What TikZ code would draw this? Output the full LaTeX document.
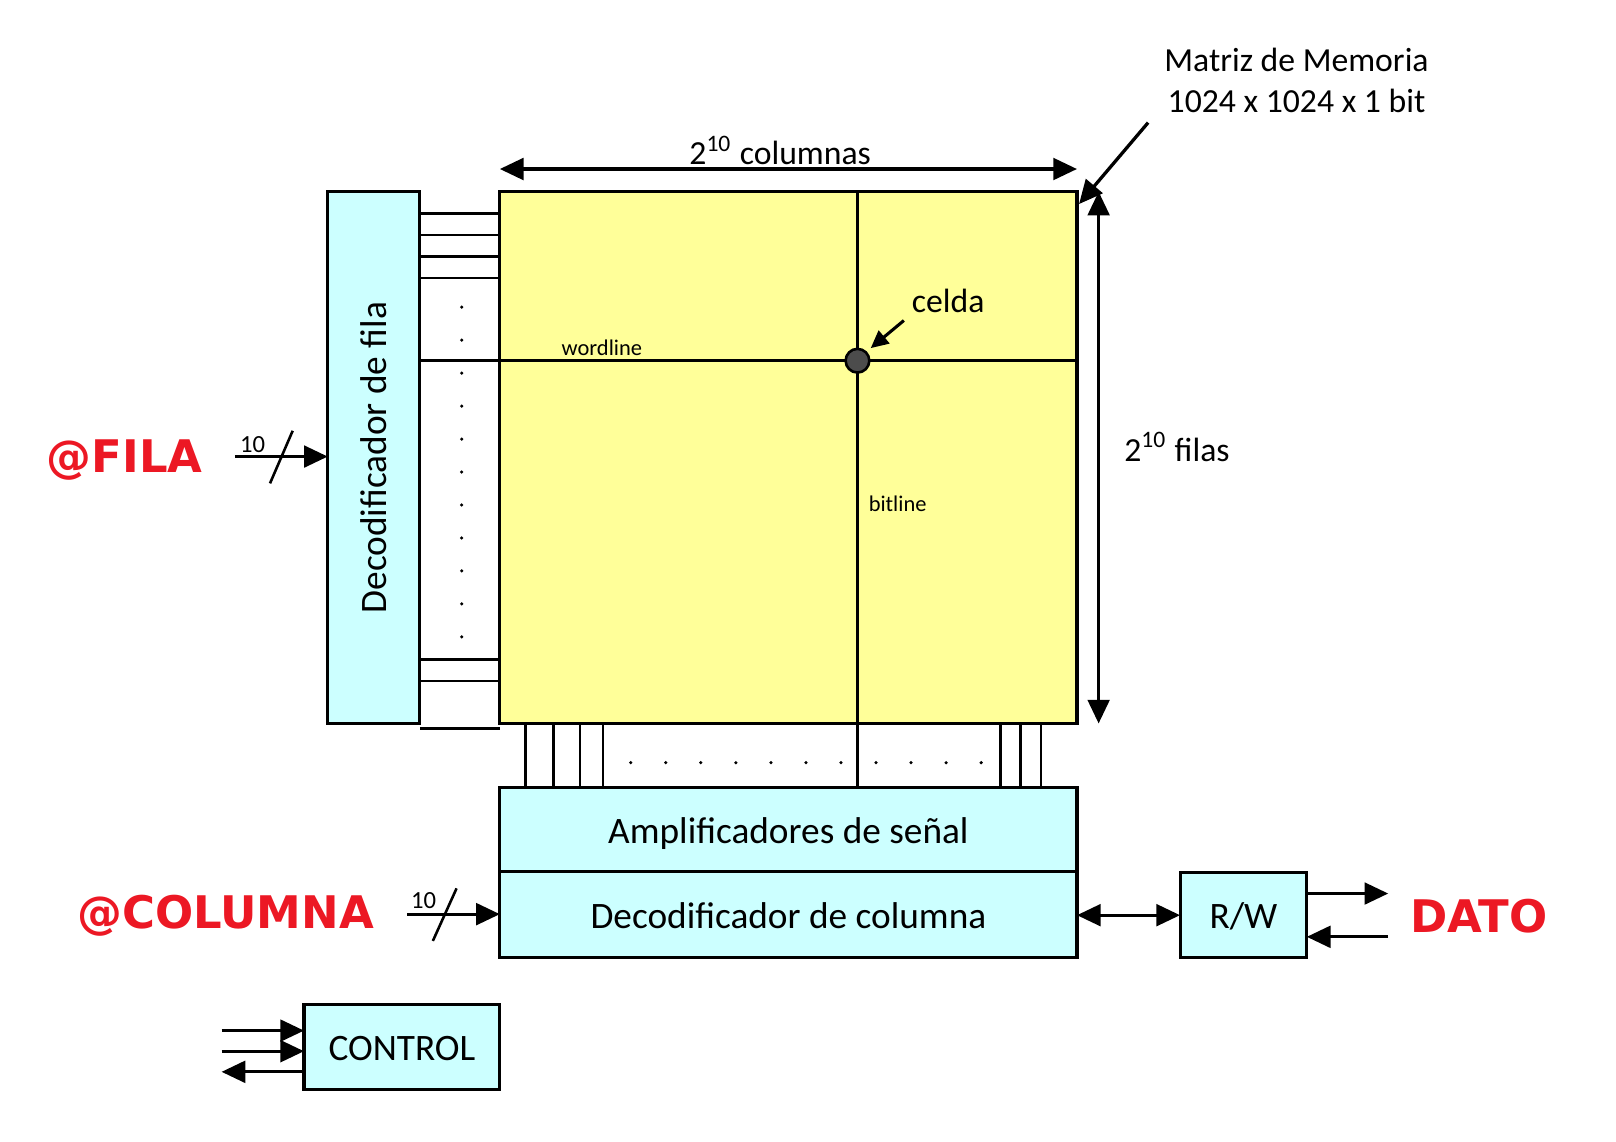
\documentclass[tikz,border=0pt]{standalone}
\usepackage{fontspec}
\setmainfont{Carlito}
\newfontfamily\rotulo{DejaVu Sans}
\usetikzlibrary{arrows.meta}
\definecolor{amarillo}{RGB}{255,255,153}
\definecolor{cian}{RGB}{204,255,255}
\definecolor{rojo}{RGB}{236,24,36}

\begin{document}
\begin{tikzpicture}[x=0.1mm,y=-0.1mm,
  caja/.style={draw,line width=0.3mm,fill=cian,inner sep=0pt,outer sep=0pt,anchor=north west,font=\fontsize{10.3}{12}\selectfont},
  baja/.style={text height=3.3mm,text depth=0.7mm},
  hilo/.style={line width=0.24mm},
  flecha/.style={line width=0.32mm,-{Triangle[length=2.3mm,width=2.1mm]}},
  doble/.style={line width=0.32mm,{Triangle[length=2.3mm,width=2.1mm]}-{Triangle[length=2.3mm,width=2.1mm]}},
  nota/.style={font=\fontsize{9.3}{11.4}\selectfont},
  chica/.style={font=\fontsize{6.2}{7}\selectfont},
  bus/.style={font=\fontsize{6.8}{8}\selectfont},
  senal/.style={font=\rotulo\bfseries\fontsize{12.4}{14}\selectfont,text=rojo}]
\useasboundingbox (0,0) rectangle (1568,1108);
\node[caja,fill=amarillo,minimum width=56mm,minimum height=51.6mm] (mat) at (485,186) {};
\node[caja,minimum width=8.9mm,minimum height=51.6mm] (decf) at (318,186) {\rotatebox{90}{Decodificador de fila}};
\node[caja,baja,minimum width=56mm,minimum height=8.2mm] (amp) at (485,764) {Amplificadores de señal};
\node[caja,baja,minimum width=56mm,minimum height=8.3mm] (decc) at (485,846) {Decodificador de columna};
\node[caja,baja,minimum width=12.3mm,minimum height=8.2mm] (rw) at (1145,847) {R/W};
\node[caja,baja,minimum width=19mm,minimum height=8.2mm] (ctrl) at (295,975) {CONTROL};
\foreach \y in {207,228,249,270,640,661} \draw[hilo] (decf.east |- 0,\y) -- (mat.west |- 0,\y);
\draw[hilo] (408,707) -- (485,707);
\foreach \y in {298,330,...,618} \fill (448,\y) circle (0.17mm);
\foreach \x in {510,537,563,585,971,990,1010} \draw[hilo] (mat.south -| \x,0) -- (amp.north -| \x,0);
\foreach \x in {612,646,...,952} \fill (\x,740) circle (0.17mm);
\draw[hilo] (decf.east |- 0,350) -- (mat.east |- 0,350);
\draw[hilo] (mat.north -| 832,0) -- (amp.north -| 832,0);
\node[draw,circle,fill=black!70,line width=0.25mm,minimum size=2.3mm,inner sep=0pt] (cel) at (832,350) {};
\node[nota] (celda) at (920,292) {celda};
\draw[line width=0.3mm,-{Triangle[length=1.7mm,width=1.6mm]},shorten >=0.5mm] (877,311) -- (cel.45);
\node[chica] (wl) at (584,337) {wordline};
\node[chica] (bl) at (871,489) {bitline};
\coordinate (c1) at (485,164); \coordinate (c2) at (1045,164);
\draw[doble] (c1) -- (c2);
\node[nota] (ncol) at (757,146) {2\textsuperscript{10} columnas};
\coordinate (f1) at (1066,186); \coordinate (f2) at (1066,702);
\draw[doble] (f1) -- (f2);
\node[nota] (nfil) at (1142,434) {2\textsuperscript{10} filas};
\node[nota,align=center] (titulo) at (1258,78) {Matriz de Memoria\\1024 x 1024 x 1 bit};
\coordinate (t1) at (1114,119); \coordinate (esq) at (1047,198);
\draw[flecha] (t1) -- (esq);
\node[senal] (fila) at (121,446) {@FILA};
\coordinate (fin) at (228,443);
\draw[flecha] (fin) -- (decf.west |- fin);
\draw[line width=0.25mm] (262,469) -- (284,418);
\node[bus] at (245,431) {10};
\node[senal] (col) at (219,889) {@COLUMNA};
\coordinate (cin) at (395,887);
\draw[flecha] (cin) -- (decc.west |- cin);
\draw[line width=0.25mm] (420,913) -- (443,862);
\node[bus] at (411,874) {10};
\draw[doble] (decc.east |- 0,888) -- (rw.west |- 0,888);
\node[senal] (dato) at (1435,889) {DATO};
\coordinate (dout) at (1347,867); \coordinate (din) at (1347,909);
\draw[flecha] (rw.east |- dout) -- (dout);
\draw[flecha] (din) -- (rw.east |- din);
\foreach \y in {1000,1020} {\draw[flecha] (215,\y) -- (ctrl.west |- 0,\y);}
\draw[flecha] (ctrl.west |- 0,1040) -- (215,1040);
\end{tikzpicture}
\end{document}
